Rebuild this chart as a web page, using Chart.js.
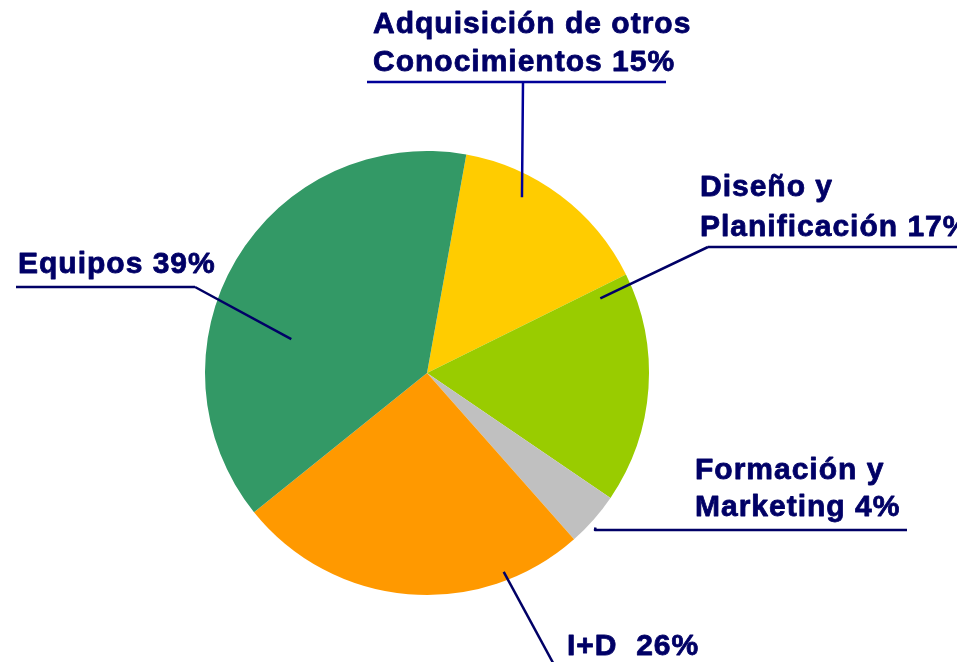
<!DOCTYPE html>
<html>
<head>
<meta charset="utf-8">
<script src="https://cdn.jsdelivr.net/npm/chart.js@4.4.0/dist/chart.umd.min.js"></script>
<style>
  html, body { margin: 0; padding: 0; background: #fff; }
  #wrap { position: relative; width: 957px; height: 662px; }
</style>
</head>
<body>
<div id="wrap"><canvas id="chart"></canvas></div>
<script>
// data (clockwise from the top)
const categories = ["Adquisición de otros Conocimientos", "Diseño y Planificación", "Formación y Marketing", "I+D", "Equipos"];
const shares = [15, 17, 4, 26, 39];
const sliceColors = ["#FFCC00", "#99CC00", "#C0C0C0", "#FF9900", "#339966"];

// label text lines per slice
const labelLines = [
  ["Adquisición de otros", "Conocimientos 15%"],
  ["Diseño y", "Planificación 17%"],
  ["Formación y", "Marketing 4%"],
  ["I+D  26%"],
  ["Equipos 39%"]
];

// where the leader starts inside each slice (fraction along arc, fraction of radius)
// and where the label / underline sit
const callouts = [
  { f: 0.34, rf: 0.90, text: [373, 33], lineH: 38, path: [[523, 82]], under: [367, 666, 82], color: "#000099" },
  { f: 0.05, rf: 0.85, text: [700, 196], lineH: 40, path: [[708, 247]], under: [708, 960, 247], color: "#000066" },
  { f: 0.58, rf: 1.03, text: [695, 479], lineH: 37, path: [], under: [595, 907, 530], color: "#000066" },
  { f: 0.22, rf: 0.96, text: [567, 655], lineH: 38, path: [[558, 672]], under: null, color: "#000066" },
  { f: 0.38, rf: 0.63, text: [18, 273], lineH: 38, path: [[195, 287]], under: [16, 195, 287], color: "#000066" }
];

const calloutPlugin = {
  id: "callouts",
  afterDatasetsDraw(chart) {
    const ctx = chart.ctx;
    const arcs = chart.getDatasetMeta(0).data;
    ctx.save();
    arcs.forEach((arc, i) => {
      const c = callouts[i];
      const p = arc.getProps(["x", "y", "startAngle", "endAngle", "outerRadius"], true);
      const a = p.startAngle + c.f * (p.endAngle - p.startAngle);
      const r = c.rf * p.outerRadius;
      const ax = p.x + Math.cos(a) * r;
      const ay = p.y + Math.sin(a) * r;

      ctx.strokeStyle = c.color;
      ctx.lineWidth = 2.5;
      ctx.lineJoin = "round";
      ctx.beginPath();
      ctx.moveTo(ax, ay);
      if (c.path.length === 0) {
        ctx.lineTo(c.under[0], c.under[2]);
        ctx.lineTo(c.under[1], c.under[2]);
      } else {
        c.path.forEach(pt => ctx.lineTo(pt[0], pt[1]));
        if (c.under) {
          ctx.moveTo(c.under[0], c.under[2]);
          ctx.lineTo(c.under[1], c.under[2]);
        }
      }
      ctx.stroke();

      // text, slightly thickened to match the heavy bold of the original
      ctx.fillStyle = "#000066";
      ctx.strokeStyle = "#000066";
      ctx.lineWidth = 0.8;
      ctx.font = "bold 30px 'Liberation Sans', Arial, sans-serif";
      ctx.letterSpacing = "1px";
      ctx.textAlign = "left";
      ctx.textBaseline = "alphabetic";
      labelLines[i].forEach((line, k) => {
        const y = c.text[1] + k * c.lineH;
        ctx.fillText(line, c.text[0], y);
        ctx.strokeText(line, c.text[0], y);
      });
    });
    ctx.restore();
  }
};

new Chart(document.getElementById("chart"), {
  type: "pie",
  data: {
    labels: categories,
    datasets: [{
      data: shares,
      backgroundColor: sliceColors,
      borderWidth: 0
    }]
  },
  options: {
    responsive: true,
    maintainAspectRatio: false,
    animation: false,
    rotation: 10.2,
    layout: { padding: { top: 151, bottom: 67, left: 205, right: 308 } },
    plugins: {
      legend: { display: false },
      tooltip: { enabled: false }
    }
  },
  plugins: [calloutPlugin]
});
</script>
</body>
</html>
